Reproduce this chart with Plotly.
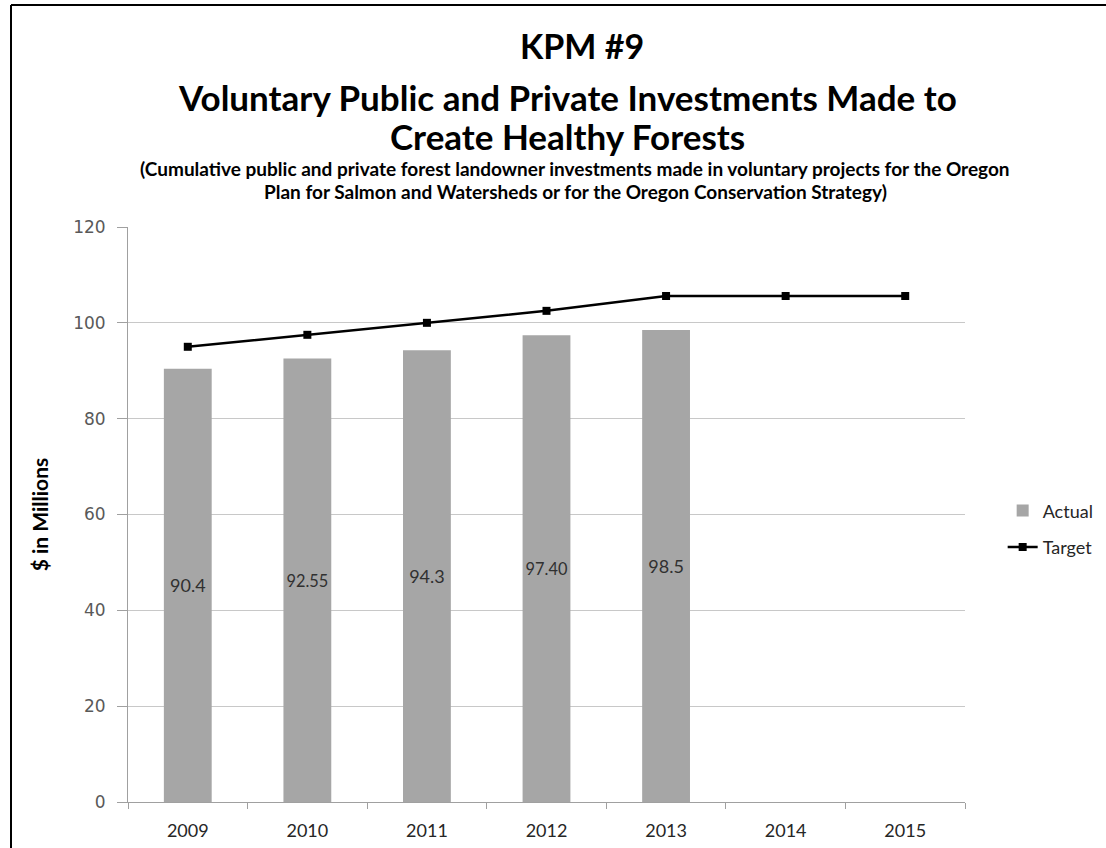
import plotly.graph_objects as go

# Fiscal years on the category axis
years = ["2009", "2010", "2011", "2012", "2013", "2014", "2015"]

# Cumulative investments ($ millions)
actual_years = ["2009", "2010", "2011", "2012", "2013"]
actual_values = [90.4, 92.55, 94.3, 97.40, 98.5]
actual_labels = ["90.4", "92.55", "94.3", "97.40", "98.5"]

target_values = [95.0, 97.5, 100.0, 102.5, 105.6, 105.6, 105.6]

y_ticks = [0, 20, 40, 60, 80, 100, 120]

title_font = "Lato"
body_font = "Lato"

PLOT_L, PLOT_R, PLOT_T, PLOT_B = 128, 965, 227, 802

fig = go.Figure()

fig.add_trace(go.Bar(
    x=actual_years,
    y=actual_values,
    name="Actual",
    legendgroup="actual",
    text=actual_labels,
    textposition="inside",
    insidetextanchor="middle",
    textangle=0,
    textfont=dict(family=body_font, size=18, color="#303030"),
    marker=dict(color="#a6a6a6", line=dict(width=0)),
    width=0.4,
))

fig.add_trace(go.Scatter(
    x=years,
    y=target_values,
    name="Target",
    legendgroup="target",
    mode="lines+markers",
    line=dict(color="black", width=2.5),
    marker=dict(symbol="square", size=8, color="black"),
))

fig.update_layout(
    width=1106,
    height=848,
    margin=dict(l=PLOT_L, r=1106 - PLOT_R, t=PLOT_T, b=848 - PLOT_B, autoexpand=False),
    paper_bgcolor="white",
    plot_bgcolor="white",
    showlegend=True,
    legend=dict(
        x=1.045, y=0.475, xanchor="left", yanchor="middle",
        font=dict(family=body_font, size=18, color="#262626"),
        bgcolor="rgba(0,0,0,0)",
        tracegroupgap=10,
    ),
    bargap=0.6,
)

fig.update_xaxes(
    type="category",
    categoryorder="array",
    categoryarray=years,
    range=[-0.5, 6.5],
    automargin=False,
    showline=True,
    linecolor="#a0a0a0",
    linewidth=1,
    ticks="outside",
    tickson="boundaries",
    ticklen=6,
    tickcolor="#a0a0a0",
    ticklabelstandoff=12,
    tickfont=dict(family=body_font, size=18, color="#262626"),
    showgrid=False,
)

fig.update_yaxes(
    range=[0, 120],
    tickvals=y_ticks,
    automargin=False,
    showline=True,
    linecolor="#a0a0a0",
    linewidth=1,
    ticks="outside",
    ticklen=10,
    tickcolor="#a0a0a0",
    ticklabelstandoff=8,
    tickfont=dict(family="DejaVu Sans", size=17, color="#595959"),
    showgrid=True,
    gridcolor="#c8c8c8",
    gridwidth=1,
    zeroline=False,
    title=dict(text="<b>$ in Millions</b>", font=dict(family=body_font, size=21, color="black"), standoff=18),
)

# Heading block above the plot: (text, centre x px, centre y px, size)
heading = [
    ("<b>KPM #9</b>", 582, 45, 34),
    ("<b>Voluntary Public and Private Investments Made to</b>", 567, 97, 35),
    ("<b>Create Healthy Forests</b>", 567, 136, 35),
    ("<b>(Cumulative public and private forest landowner investments made in voluntary projects for the Oregon</b>", 575, 168, 19),
    ("<b>Plan for Salmon and Watersheds or for the Oregon Conservation Strategy)</b>", 575, 192, 19),
]
for text, xpx, ypx, size in heading:
    fig.add_annotation(
        text=text,
        xref="paper", yref="paper",
        x=(xpx - PLOT_L) / (PLOT_R - PLOT_L),
        y=(PLOT_B - ypx) / (PLOT_B - PLOT_T),
        xanchor="center", yanchor="middle",
        showarrow=False,
        font=dict(family=title_font, size=size, color="black"),
    )

# Frame lines along the top and left edges
W, H = PLOT_R - PLOT_L, PLOT_B - PLOT_T
fig.add_shape(type="line", xref="paper", yref="paper",
              x0=(11 - PLOT_L) / W, x1=(1106 - PLOT_L) / W,
              y0=(PLOT_B - 5) / H, y1=(PLOT_B - 5) / H,
              line=dict(color="black", width=2))
fig.add_shape(type="line", xref="paper", yref="paper",
              x0=(11 - PLOT_L) / W, x1=(11 - PLOT_L) / W,
              y0=(PLOT_B - 5) / H, y1=(PLOT_B - 848) / H,
              line=dict(color="black", width=2))

fig.write_html("out.html")
